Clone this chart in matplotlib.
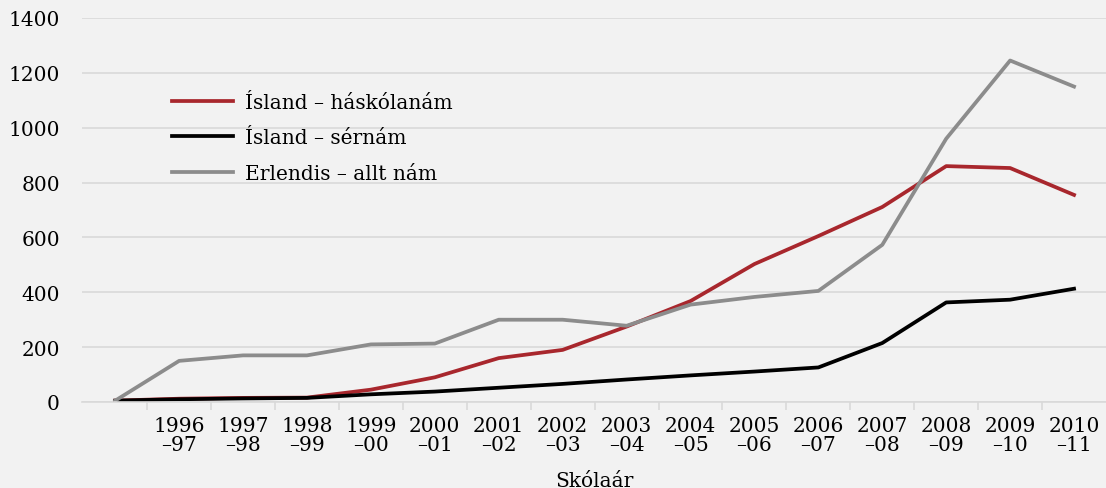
import matplotlib
matplotlib.use("Agg")
import matplotlib.pyplot as plt
import numpy as np

categories = ["", "1996\n–97", "1997\n–98", "1998\n–99", "1999\n–00", "2000\n–01",
              "2001\n–02", "2002\n–03", "2003\n–04", "2004\n–05", "2005\n–06",
              "2006\n–07", "2007\n–08", "2008\n–09", "2009\n–10", "2010\n–11"]
haskolanam = [5, 12, 15, 16, 45, 90, 160, 190, 275, 368, 503, 605, 711, 860, 853, 755]
sernam = [5, 10, 13, 15, 28, 38, 52, 66, 82, 97, 111, 126, 215, 363, 373, 413]
erlendis = [5, 150, 170, 170, 210, 213, 300, 300, 278, 355, 383, 405, 573, 960, 1245, 1150]
series_names = ["Ísland – háskólanám", "Ísland – sérnám", "Erlendis – allt nám"]
yticks = [0, 200, 400, 600, 800, 1000, 1200, 1400]

bg = "#f2f2f2"
fs = 14.5
plt.rcParams["font.family"] = ["DejaVu Serif"]
fig = plt.figure(figsize=(11.06, 4.89), dpi=100, facecolor=bg)
ax = fig.add_axes([82/1106, 1-403/489, 1-82/1106, (403-19)/489])
ax.set_facecolor(bg)

x = np.arange(len(categories))
ax.plot(x, haskolanam, color="#a8272d", lw=2.7, label=series_names[0], solid_joinstyle="round")
ax.plot(x, sernam, color="#000000", lw=2.7, label=series_names[1], solid_joinstyle="round")
ax.plot(x, erlendis, color="#8c8c8c", lw=2.7, label=series_names[2], solid_joinstyle="round")

ax.set_xlim(-0.52, len(categories) - 0.5)
ax.set_ylim(0, 1400)
ax.set_yticks(yticks)
ax.set_yticklabels([str(v) for v in yticks], fontsize=fs)
ax.yaxis.grid(True, color="#d9d9d9", lw=1.2)
ax.set_axisbelow(True)
ax.tick_params(axis="y", length=0, pad=16)

ax.set_xticks(x)
ax.set_xticklabels(categories, fontsize=fs, linespacing=1.0)
ax.set_xticks(np.arange(0.5, len(categories) - 0.5, 1), minor=True)
ax.tick_params(axis="x", which="major", length=0, pad=10)
ax.tick_params(axis="x", which="minor", length=6, color="#d9d9d9", width=1.2, direction="out")

for s in ["top", "right", "left"]:
    ax.spines[s].set_visible(False)
ax.spines["bottom"].set_color("#d9d9d9")
ax.spines["bottom"].set_linewidth(1.2)

ax.set_xlabel("Skólaár", fontsize=fs, labelpad=12)

leg = ax.legend(loc="upper left", bbox_to_anchor=(0.088, 0.805), frameon=False,
                fontsize=fs, handlelength=3.0, handletextpad=0.6, labelspacing=0.82,
                borderpad=0, borderaxespad=0)

fig.savefig("out.png", dpi=100, facecolor=bg)
